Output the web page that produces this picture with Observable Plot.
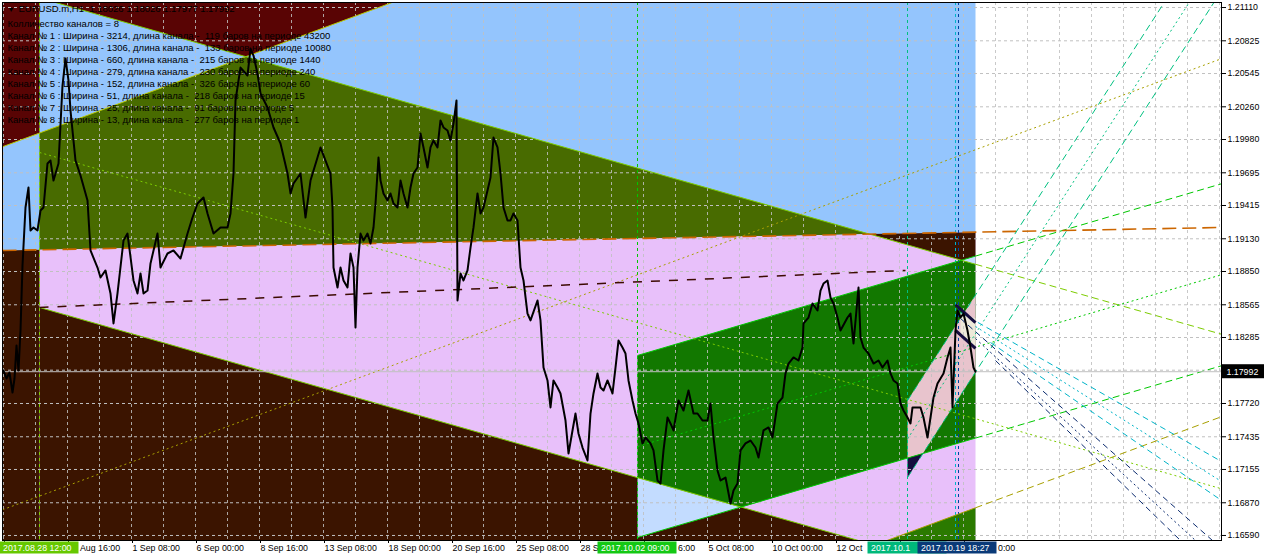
<!DOCTYPE html>
<html><head><meta charset="utf-8">
<script src="https://cdn.jsdelivr.net/npm/d3@7"></script>
<script src="https://cdn.jsdelivr.net/npm/@observablehq/plot@0.6"></script>
<style>
body{margin:0;background:#fff;}
#chart svg{display:block;}
</style></head><body><div id="chart"></div>
<script>
// ---------- DATA ----------
// x = bar index (one bar per pixel slot), y = EURUSD price
const priceBars = [3,6,9,12,14,16,18,20,22,25,28,30,33,37,40,43,47,50,53,58,62,65,68,70,75,80,87,90,97,100,105,110,113,117,123,127,133,137,140,143,147,150,157,160,167,173,180,187,192,197,203,207,213,220,227,230,233,235,238,240,247,250,253,257,260,267,273,280,287,290,293,300,305,310,317,320,325,330,332,333,337,340,343,347,350,353,355,357,360,363,367,370,373,375,378,380,383,387,390,393,397,400,403,407,410,413,417,420,423,427,430,433,437,440,443,447,450,453,456,457,460,463,467,470,473,477,480,483,487,490,493,497,500,503,507,510,513,517,520,523,527,530,537,540,543,547,550,553,557,560,565,568,572,575,578,582,587,590,593,597,600,603,607,612,615,618,622,625,628,632,635,638,642,645,650,653,657,660,663,667,670,673,678,683,688,693,697,702,707,710,713,717,720,725,730,733,737,740,745,750,755,758,763,768,772,777,782,785,788,793,798,802,803,808,812,817,820,823,827,830,833,837,840,847,850,853,858,860,863,868,873,878,882,887,890,893,897,900,903,907,910,912,920,923,927,930,933,937,943,947,950,952,955,957,960,963,967,970,973,975];
const priceValues = [1.18002,1.17934,1.17985,1.17814,1.17934,1.18217,1.18002,1.18345,1.18901,1.19398,1.19569,1.19201,1.19227,1.19201,1.19372,1.19398,1.19775,1.19800,1.19629,1.19775,1.20442,1.20674,1.20485,1.20228,1.19800,1.19672,1.19458,1.19030,1.18884,1.18799,1.18859,1.18662,1.18405,1.18662,1.19115,1.19175,1.18773,1.18662,1.18833,1.18662,1.18687,1.18919,1.19175,1.18884,1.19004,1.19030,1.18961,1.19175,1.19312,1.19432,1.19484,1.19347,1.19175,1.19227,1.19227,1.19347,1.19689,1.20314,1.20485,1.20596,1.20528,1.20759,1.20699,1.20545,1.20374,1.20254,1.20083,1.19946,1.19689,1.19518,1.19603,1.19689,1.19312,1.19629,1.19826,1.19912,1.19800,1.19689,1.19398,1.18884,1.18713,1.18884,1.18773,1.18713,1.19004,1.18884,1.18371,1.18884,1.19175,1.19115,1.19175,1.19090,1.19227,1.19432,1.19826,1.19629,1.19518,1.19458,1.19518,1.19432,1.19398,1.19629,1.19518,1.19398,1.19569,1.19689,1.19740,1.20031,1.19912,1.19740,1.19912,1.19972,1.19912,1.20143,1.20083,1.20057,1.19972,1.20117,1.20314,1.18602,1.18833,1.18773,1.18859,1.19055,1.19227,1.19518,1.19347,1.19398,1.19543,1.19655,1.19997,1.19912,1.19689,1.19398,1.19287,1.19287,1.19347,1.19287,1.18884,1.18773,1.18490,1.18431,1.18602,1.18431,1.18028,1.17917,1.17686,1.17917,1.17857,1.17806,1.17574,1.17292,1.17489,1.17634,1.17463,1.17343,1.17232,1.17634,1.17806,1.17977,1.17857,1.17831,1.17917,1.17806,1.18028,1.18259,1.18199,1.18148,1.17917,1.17746,1.17634,1.17549,1.17378,1.17429,1.17378,1.17318,1.17061,1.17035,1.17318,1.17600,1.17549,1.17489,1.17746,1.17660,1.17831,1.17634,1.17634,1.17574,1.17574,1.17720,1.17429,1.17146,1.17061,1.17086,1.16864,1.16975,1.17035,1.17318,1.17378,1.17403,1.17343,1.17258,1.17489,1.17515,1.17429,1.17720,1.17771,1.17977,1.18062,1.18114,1.18088,1.18199,1.18405,1.18456,1.18576,1.18516,1.18687,1.18747,1.18773,1.18627,1.18576,1.18456,1.18345,1.18456,1.18490,1.18234,1.18713,1.18285,1.18199,1.18148,1.18062,1.18088,1.18028,1.18088,1.17977,1.17917,1.17891,1.17720,1.17660,1.17600,1.17549,1.17686,1.17686,1.17600,1.17429,1.17600,1.17771,1.17891,1.17977,1.18114,1.18199,1.17686,1.18345,1.18516,1.18456,1.18490,1.18345,1.18199,1.18028,1.17992];
const bidPrice = 1.17992;

const yTicks = [1.21110,1.20825,1.20545,1.20260,1.19980,1.19695,1.19415,1.19130,1.18850,1.18565,1.18285,1.18005,1.17720,1.17435,1.17155,1.16870,1.16590];
const yLabelTicks = [1.21110,1.20825,1.20545,1.20260,1.19980,1.19695,1.19415,1.19130,1.18850,1.18565,1.18285,1.17720,1.17435,1.17155,1.16870,1.16590];
// time axis: tick bars and the part of each label that is visible (others are hidden under the markers)
const xTickBars = [3,67,131,195,259,323,387,451,515,579,643,707,771,835,899,963];
const xTickLabels = ["","","1 Sep 08:00","6 Sep 00:00","8 Sep 16:00","13 Sep 08:00","18 Sep 00:00","20 Sep 16:00","25 Sep 08:00","28 S","","5 Oct 08:00","10 Oct 00:00","12 Oct","",""];
const xGridBars = [3,35,67,99,131,163,195,227,259,291,323,355,387,419,451,483,515,547,579,611,643,675,707,739,771,803,835,867,899,931,963,995,1027,1059,1091,1123,1155,1187,1219];

// channel start markers (bar, label, visible tail of the time label it hides)
const startBars = [39,637,907,957];
const startLabels = ["2017.08.28 12:00","2017.10.02 09:00","2017.10.1","2017.10.19 18:27"];
const startTails = ["Aug 16:00","6:00","","0:00"];
const startKinds = ["ch2","ch3","ch4","now"];
const markerBars = [39,637,907,955,958];
const markerKinds = ["ch2","ch3","ch4","ch5","ch6"];

// filled channel zones: vertices [bar, price]
const zoneSky     = [[2,1.2117],[975,1.2117],[975,1.19187],[2,1.19030]];
const zoneMaroonL = [[2,1.2117],[39,1.2117],[39,1.20035],[2,1.19918]];
const zoneMaroonT = [[48,1.2117],[397,1.2117],[245.5,1.20689]];
const zoneOlive   = [[39,1.20035],[245.5,1.20689],[869,1.19170],[39,1.19036]];
const zonePink    = [[39,1.19036],[975,1.19187],[975,1.16547],[39,1.16547]];
const zoneBrownL  = [[2,1.19030],[39,1.19036],[39,1.16547],[2,1.16547]];
const zoneBrownB  = [[39,1.18542],[858,1.16547],[39,1.16547]];
const zoneBrownT  = [[869,1.19170],[975,1.19187],[975,1.18912]];
const zoneGreen   = [[637,1.18131],[961,1.18946],[975,1.18912],[975,1.17424],[740.5,1.16832],[637,1.17085]];
const zoneIceB    = [[637,1.17085],[740.5,1.16832],[637,1.16573]];
const zoneIceT    = [[961,1.18946],[975,1.18982],[975,1.18912]];
const zoneGreenB  = [[886.5,1.16547],[975,1.16827],[975,1.16547]];
const zoneRose    = [[907,1.17746],[975,1.18648],[975,1.17989],[922.4,1.17291],[907,1.17253]];
const zoneNavy    = [[907,1.17253],[922.4,1.17291],[907,1.17086]];
const zoneCream   = [[960,1.18499],[975,1.18448],[975,1.18208],[960,1.18294]];

// channel lines: [bar1, price1, bar2, price2]
const lineU1e = [2,1.19918,397,1.2117];
const lineU2e = [48,1.2117,975,1.18912];
const lineL2e = [39,1.18542,858,1.16547];
const lineU3e = [637,1.18131,975,1.18982];
const lineL3e = [637,1.16573,975,1.17424];
const lineL1e = [886.5,1.16547,975,1.16827];
const lineU2x = [975,1.18912,1221,1.18313];
const lineU3x = [975,1.18982,1221,1.19601];
const lineL3x = [975,1.17424,1221,1.18043];
const lineL1x = [975,1.16827,1221,1.17607];
const lineM1 = [2,1.16810,1221,1.20672];
const lineM2 = [39,1.19869,1221,1.16990];
const lineM3 = [637,1.17352,1221,1.18822];
const lineOr = [2,1.19030,1221,1.19227];
const lineDB = [39,1.18542,905,1.18859];
const lineU4 = [907,1.17746,1165,1.2117];
const lineM4 = [907,1.17416,1190,1.2117];
const lineL4 = [907,1.17086,1214.7,1.2117];
const lineT1 = [960,1.18499,1221,1.17223];
const lineT2 = [975,1.18379,1221,1.17052];
const lineT3 = [990,1.18242,1221,1.16890];
const lineN1 = [960,1.18448,1212,1.16547];
const lineN2 = [975,1.18276,1195,1.16547];
const lineN3 = [995,1.18088,1180,1.16547];
const stripA = [955,1.18567,975,1.18413];
const stripB = [955,1.18345,975,1.18191];

const headerText = "EURUSD.m,H1  1.18026 1.18026 1.17977 1.17992";
const infoLines = [
  "Колличество каналов = 8",
  "Канал № 1 : Ширина - 3214, длина канала -  119 баров на периоде 43200",
  "Канал № 2 : Ширина - 1306, длина канала -  133 баров на периоде 10080",
  "Канал № 3 : Ширина - 660, длина канала -  215 баров на периоде 1440",
  "Канал № 4 : Ширина - 279, длина канала -  230 баров на периоде 240",
  "Канал № 5 : Ширина - 152, длина канала -  326 баров на периоде 60",
  "Канал № 6 : Ширина - 51, длина канала -  218 баров на периоде 15",
  "Канал № 7 : Ширина - 25, длина канала -  91 баров на периоде 5",
  "Канал № 8 : Ширина - 13, длина канала -  277 баров на периоде 1"
];

// ---------- STYLES ----------
const C = {
  sky:"#94c5fd", maroon:"#590404", olive:"#486b00", pink:"#e8c0fa", brown:"#3b1400",
  green:"#127800", ice:"#c3dcff", greenB:"#2b7a00", rose:"#e8c4cd", navy:"#150d3f", cream:"#ede9d9",
  ch1:"#a8a000", ch1e:"#b8c800", ch2:"#7ccc00", ch3:"#00c800", ch4:"#00c080", ch5:"#00b4c8", ch6:"#0a2a6e",
  orange:"#cc6600", dbrown:"#3c0a00", grid:"#c0c0c0"
};
const boxColor = {ch2:"#66c800", ch3:"#14c814", ch4:"#00b87a", now:"#0a3a78"};
const markColor = {ch2:C.ch2, ch3:C.ch3, ch4:C.ch4, ch5:C.ch5, ch6:"#0040a0"};
const boxHalf = 39.5;   // half-width of a marker label box, in bar slots
const FS = 8.8;         // axis font size

const yDomain = [1.16547, 1.21153];
const pxp = (yDomain[1]-yDomain[0]) / 538; // price per pixel (for label boxes)

const zone = (pts, color) => Plot.line(pts, {x: d => d[0], y: d => d[1], fill: color, stroke: "none", clip: true});
const seg = (s, color, dash, w = 1) => Plot.link([s], {x1: d => d[0], y1: d => d[1], x2: d => d[2], y2: d => d[3], stroke: color, strokeDasharray: dash, strokeWidth: w, clip: true});

const price = priceBars.map((b, i) => ({b, p: priceValues[i]}));
const starts = startBars.map((b, i) => ({b, label: startLabels[i], tail: startTails[i], kind: startKinds[i]}));
const markers = markerBars.map((b, i) => ({b, kind: markerKinds[i]}));
const labelByBar = new Map(xTickBars.map((b, i) => [b, xTickLabels[i]]));

const boxMarks = starts.flatMap(s => [
  Plot.rect([s], {x1: d => d.b - boxHalf, x2: d => d.b + boxHalf, y1: yDomain[0] - 1.5*pxp, y2: yDomain[0] - 13.5*pxp, fill: d => boxColor[d.kind]}),
  Plot.text([s], {x: d => d.b - boxHalf + 3, y: yDomain[0] - 7.5*pxp, text: "label", fill: "white", fontSize: FS, textAnchor: "start"}),
  Plot.text([s], {x: d => d.b + boxHalf + 1, y: yDomain[0] - 7.5*pxp, text: "tail", fill: "black", fontSize: FS, textAnchor: "start"})
]);

const chart = Plot.plot({
  width: 1264, height: 559,
  marginLeft: 2, marginRight: 43, marginTop: 2, marginBottom: 19,
  x: {domain: [2, 1221], axis: null, label: null},
  y: {domain: yDomain, axis: null, label: null},
  style: {fontFamily: "'Liberation Sans', Arial, sans-serif", fontSize: "9.5px", background: "white", overflow: "visible"},
  marks: [
    zone(zoneSky, C.sky), zone(zoneMaroonL, C.maroon), zone(zoneMaroonT, C.maroon), zone(zoneOlive, C.olive),
    zone(zonePink, C.pink), zone(zoneBrownL, C.brown), zone(zoneBrownB, C.brown), zone(zoneBrownT, C.brown),
    zone(zoneGreen, C.green), zone(zoneIceB, C.ice), zone(zoneIceT, C.ice), zone(zoneGreenB, C.greenB),
    zone(zoneRose, C.rose), zone(zoneNavy, C.navy), zone(zoneCream, C.cream),
    // grid
    Plot.ruleY(yTicks, {stroke: C.grid, strokeDasharray: "3,3"}),
    Plot.ruleX(xGridBars, {stroke: C.grid, strokeDasharray: "3,3", strokeOpacity: 0.85}),
    // channel start verticals
    Plot.ruleX(markers, {x: "b", stroke: d => markColor[d.kind], strokeDasharray: "3,3"}),
    // channel edges
    seg(lineU1e, C.ch1e, null), seg(lineU2e, C.ch2, null), seg(lineL2e, C.ch2, null),
    seg(lineU3e, C.ch3, null), seg(lineL3e, C.ch3, null), seg(lineL1e, C.ch1, null),
    // extensions
    seg(lineU2x, C.ch2, "7,4"), seg(lineU3x, C.ch3, "7,4"), seg(lineL3x, C.ch3, "7,4"), seg(lineL1x, C.ch1, "7,4"),
    seg(lineM1, C.ch1, "2,3"), seg(lineM2, C.ch2, "2,3"), seg(lineM3, C.ch3, "2,3"),
    seg(lineOr, C.orange, "14,6", 1.6), seg(lineDB, C.dbrown, "9,9", 1.5),
    seg(lineU4, C.ch4, "7,4"), seg(lineM4, C.ch4, "2,3"), seg(lineL4, C.ch4, "7,4"),
    seg(lineT1, C.ch5, "6,4"), seg(lineT2, C.ch5, "2,3"), seg(lineT3, C.ch5, "6,4"),
    seg(lineN1, C.ch6, "6,4"), seg(lineN2, C.ch6, "2,3"), seg(lineN3, C.ch6, "6,4"),
    seg(stripA, C.navy, null, 3), seg(stripB, C.navy, null, 3),
    // bid line
    Plot.ruleY([bidPrice], {stroke: "#c0c0c0", strokeWidth: 1}),
    // price
    Plot.line(price, {x: "b", y: "p", stroke: "black", strokeWidth: 2, clip: true}),
    Plot.frame({stroke: "black"}),
    // info texts
    Plot.text(["▼"], {frameAnchor: "top-left", dx: 5, dy: 5, lineAnchor: "top", fontSize: 7, fill: "black"}),
    Plot.text([headerText], {frameAnchor: "top-left", dx: 16, dy: 3, lineAnchor: "top", fill: "black"}),
    Plot.text([infoLines.join("\n")], {frameAnchor: "top-left", dx: 5, dy: 16, lineAnchor: "top", lineHeight: 1.263, fill: "black"}),
    // axes
    Plot.axisY(yLabelTicks, {anchor: "right", label: null, tickSize: 4, tickPadding: 2, tickFormat: d => d.toFixed(5), fontSize: FS}),
    Plot.axisX(xTickBars, {anchor: "bottom", label: null, tickSize: 3, tickPadding: 1, tickFormat: d => labelByBar.get(d), textAnchor: "start", dx: 1, fontSize: FS}),
    // start label boxes
    ...boxMarks,
    // current price box
    Plot.rect([bidPrice], {x1: 1222, x2: 1264, y1: d => d - 7*pxp, y2: d => d + 7*pxp, fill: "black"}),
    Plot.text([bidPrice], {x: 1226, y: d => d, text: d => d.toFixed(5), fill: "white", textAnchor: "start", fontSize: FS})
  ]
});
document.getElementById("chart").appendChild(chart);
</script></body></html>
